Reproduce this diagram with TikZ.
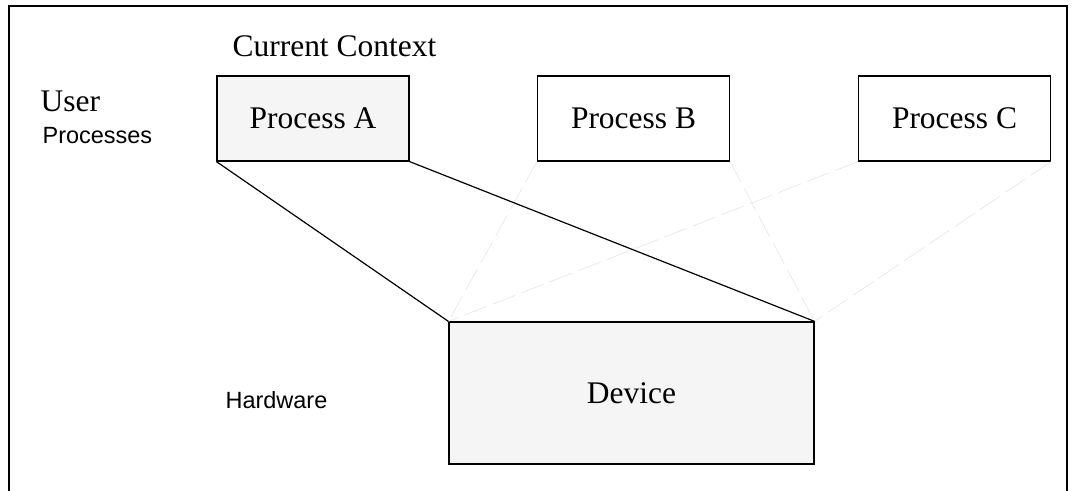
\documentclass[tikz,border=0pt]{standalone}
\usepackage{fontspec}
\setmainfont{Liberation Serif}
\setsansfont{Liberation Sans}
\definecolor{boxfill}{HTML}{F5F5F5}
\definecolor{faint}{HTML}{E6E6E6}
\begin{document}
\begin{tikzpicture}[x=0.75pt,y=-0.75pt,
  every path/.style={line width=0.9pt},
  proc/.style={draw,rectangle,inner sep=0pt,minimum width=144pt,minimum height=63.75pt,
    font=\fontsize{23.6}{26}\selectfont},
  label/.style={inner sep=0pt,anchor=base west},
  ghost/.style={draw=faint,line width=0.5pt,dash pattern=on 18pt off 5pt}]
\useasboundingbox (0,0) rectangle (1077,491);
\draw (9,500) |- (1067,6) -- (1067,500);
\node[label,font=\fontsize{23.6}{26}\selectfont]             (ctx)  at (232,57)  {Current Context};
\node[label,font=\fontsize{23.6}{26}\selectfont]             (user) at (40,112)  {User};
\node[label,font=\sffamily\fontsize{17.6}{20}\selectfont]    (up)   at (42,144)  {Processes};
\node[label,font=\sffamily\fontsize{17.6}{20}\selectfont]    (hw)   at (225,408) {Hardware};
\node[proc,fill=boxfill] (procA) at (313,118.5) {Process A};
\node[proc]              (procB) at (633.5,118.5) {Process B};
\node[proc]              (procC) at (954.5,118.5) {Process C};
\node[proc,fill=boxfill,minimum width=273.75pt,minimum height=106.5pt] (dev) at (631.5,393) {Device};
\draw[ghost] (procB.south west) -- (dev.north west);
\draw[ghost] (procB.south east) -- (dev.north east);
\draw[ghost] (procC.south west) -- (dev.north west);
\draw[ghost] (procC.south east) -- (dev.north east);
\draw (procA.south west) -- (dev.north west);
\draw (procA.south east) -- (dev.north east);
\end{tikzpicture}
\end{document}
